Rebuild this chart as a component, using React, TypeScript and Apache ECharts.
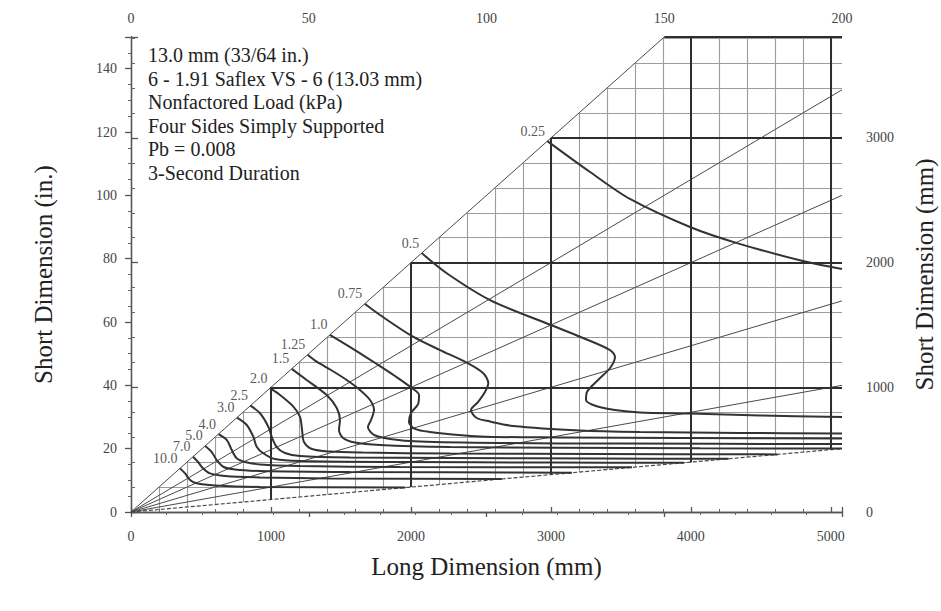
import React, { useEffect, useRef } from 'react';
import * as echarts from 'echarts';

// ---- axis ranges and ticks ----
const longMaxMm = 5080;
const longMaxIn = 200;
const shortMaxIn = 150;
const shortMaxMm = 3810;
const bottomTickStep = 1000;
const topTickStep = 50;
const leftTickStep = 20;
const rightTickStep = 1000;

// ---- chart grid definition (mm) ----
const fineGridStep = 200;
const coarseGridStep = 1000;
const aspectRatios = [1, 1.5, 2, 3, 5, 10];
const maxAspect = 10;

const headerLines = [
  '13.0 mm (33/64 in.)',
  '6 - 1.91 Saflex VS - 6 (13.03 mm)',
  'Nonfactored Load (kPa)',
  'Four Sides Simply Supported',
  'Pb = 0.008',
  '3-Second Duration',
];

// ---- load contours: [long mm, short mm] ----
const loadLabels = ['0.25', '0.5', '0.75', '1.0', '1.25', '1.5', '2.0', '2.5', '3.0', '4.0', '5.0', '7.0', '10.0'];

const load025 = [[2975, 2975], [3280, 2727], [3565, 2511], [3994, 2286], [4330, 2157], [4801, 2013], [5080, 1949]];
const load05 = [[2077, 2077], [2256, 1915], [2565, 1700], [3000, 1500], [3208, 1406], [3423, 1299], [3458, 1243], [3423, 1155], [3337, 1059], [3258, 963], [3251, 898], [3322, 850], [3458, 818], [3637, 798], [3994, 790], [4494, 774], [5080, 762]];
const load075 = [[1670, 1670], [1779, 1580], [2015, 1406], [2208, 1299], [2399, 1198], [2517, 1113], [2553, 1032], [2529, 963], [2479, 882], [2429, 818], [2470, 754], [2565, 726], [2729, 690], [3208, 654], [3637, 642], [4351, 634], [5080, 630]];
const load10 = [[1421, 1421], [1600, 1299], [1756, 1187], [1886, 1091], [2000, 1000], [2058, 938], [2051, 866], [2001, 794], [1986, 722], [2029, 666], [2136, 642], [2494, 606], [3065, 598], [3923, 594], [5080, 590]];
const load125 = [[1262, 1262], [1327, 1206], [1429, 1139], [1541, 1059], [1636, 979], [1708, 898], [1736, 818], [1715, 738], [1693, 682], [1736, 618], [1851, 586], [2065, 565], [2637, 553], [3494, 549], [5080, 545]];
const load15 = [[1148, 1148], [1255, 1059], [1398, 938], [1470, 834], [1493, 738], [1486, 658], [1515, 594], [1600, 557], [1779, 537], [2279, 521], [3065, 515], [4066, 511], [5080, 509]];
const load20 = [[993, 993], [1065, 938], [1160, 845], [1208, 762], [1222, 658], [1236, 561], [1293, 505], [1422, 485], [1658, 477], [2279, 469], [3351, 465], [4620, 462]];
const load25 = [[853, 853], [922, 792], [981, 684], [1005, 604], [1041, 521], [1100, 473], [1208, 449], [1565, 437], [2279, 433], [3351, 429], [4270, 427]];
const load30 = [[757, 757], [827, 698], [874, 604], [898, 524], [945, 471], [1029, 425], [1208, 409], [1922, 401], [2994, 397], [3950, 395]];
const load40 = [[625, 625], [684, 578], [720, 497], [755, 431], [815, 401], [922, 381], [1208, 369], [1922, 361], [3580, 358]];
const load50 = [[530, 530], [577, 481], [612, 417], [659, 363], [743, 341], [922, 329], [1565, 321], [3150, 315]];
const load70 = [[443, 443], [479, 401], [514, 351], [564, 310], [672, 289], [922, 277], [1422, 269], [2650, 265]];
const load100 = [[350, 350], [386, 310], [422, 257], [469, 230], [600, 213], [922, 201], [1960, 196]];

const loadCurves = [load025, load05, load075, load10, load125, load15, load20, load25, load30, load40, load50, load70, load100];

const FONT = 'Liberation Serif';

function buildSegments() {
  const fine: number[][][] = [];
  for (let x = fineGridStep; x < longMaxMm; x += fineGridStep) {
    fine.push([[x, x / maxAspect], [x, Math.min(x, shortMaxMm)]]);
  }
  for (let y = fineGridStep; y < shortMaxMm; y += fineGridStep) {
    fine.push([[y, y], [Math.min(y * maxAspect, longMaxMm), y]]);
  }
  const coarse: number[][][] = [];
  for (let x = coarseGridStep; x < longMaxMm; x += coarseGridStep) {
    coarse.push([[x, x / maxAspect], [x, Math.min(x, shortMaxMm)]]);
  }
  for (let y = coarseGridStep; y < shortMaxMm; y += coarseGridStep) {
    coarse.push([[y, y], [Math.min(y * maxAspect, longMaxMm), y]]);
  }
  coarse.push([[shortMaxMm, shortMaxMm], [longMaxMm, shortMaxMm]]);
  const solidRatios: number[][][] = [];
  const dashedRatios: number[][][] = [];
  aspectRatios.forEach((r) => {
    const xe = Math.min(longMaxMm, shortMaxMm * r);
    const seg = [[0, 0], [xe, xe / r]];
    if (r === maxAspect) dashedRatios.push(seg);
    else solidRatios.push(seg);
  });
  return { fine, coarse, solidRatios, dashedRatios };
}

const plain = (v: number) => String(v);

export default function App() {
  const ref = useRef<HTMLDivElement>(null);
  useEffect(() => {
    if (!ref.current) return;
    const chart = echarts.init(ref.current, undefined, { renderer: 'svg' });
    const { fine, coarse, solidRatios, dashedRatios } = buildSegments();

    const axisLineStyle = { color: '#555', width: 1.3 };
    const labelStyle = { fontFamily: FONT, fontSize: 14, color: '#444', formatter: plain };
    const nameStyle = { fontFamily: FONT, fontSize: 25, color: '#222' };
    const curveLabel = { fontFamily: FONT, fontSize: 14, color: '#2a2a2a', textBorderWidth: 0 };

    const series: any[] = [
      {
        type: 'lines', coordinateSystem: 'cartesian2d', xAxisIndex: 0, yAxisIndex: 1,
        data: fine.map((c) => ({ coords: c })),
        lineStyle: { color: '#9c9c9c', width: 1.1, opacity: 1 }, silent: true, z: 1,
      },
      {
        type: 'lines', coordinateSystem: 'cartesian2d', xAxisIndex: 0, yAxisIndex: 1,
        data: solidRatios.map((c) => ({ coords: c })),
        lineStyle: { color: '#4a4a4a', width: 1, opacity: 1 }, silent: true, z: 2,
      },
      {
        type: 'lines', coordinateSystem: 'cartesian2d', xAxisIndex: 0, yAxisIndex: 1,
        data: dashedRatios.map((c) => ({ coords: c })),
        lineStyle: { color: '#4a4a4a', width: 1.2, opacity: 1, type: [4, 2] }, silent: true, z: 2,
      },
      {
        type: 'lines', coordinateSystem: 'cartesian2d', xAxisIndex: 0, yAxisIndex: 1,
        data: coarse.map((c) => ({ coords: c })),
        lineStyle: { color: '#2e2e2e', width: 2, opacity: 1 }, silent: true, z: 3,
      },
    ];
    loadCurves.forEach((pts, i) => {
      series.push({
        type: 'line', name: loadLabels[i], xAxisIndex: 0, yAxisIndex: 1,
        data: pts, smooth: 0.3, showSymbol: false, silent: true, z: 5,
        lineStyle: { color: '#333', width: 2 },
      });
    });
    series.push({
      type: 'scatter', xAxisIndex: 0, yAxisIndex: 1, symbolSize: 1, silent: true, z: 6,
      itemStyle: { color: 'rgba(0,0,0,0)' },
      data: loadCurves.map((pts, i) => ({ value: pts[0], label: { ...curveLabel, formatter: loadLabels[i] } })),
      label: { show: true, position: 'left', distance: 2, offset: [0, -10], ...curveLabel },
    });

    chart.setOption({
      animation: false,
      textStyle: { fontFamily: FONT },
      grid: { left: 131, width: 711, top: 37, height: 475, outerBoundsMode: 'none', containLabel: false },
      xAxis: [
        {
          type: 'value', position: 'bottom', min: 0, max: longMaxMm, interval: bottomTickStep,
          axisLine: { lineStyle: axisLineStyle }, splitLine: { show: false },
          axisTick: { inside: true, length: 5, lineStyle: axisLineStyle },
          minorTick: { show: true, splitNumber: 5, length: 3, lineStyle: { color: '#666' } },
          axisLabel: { ...labelStyle, margin: 17, showMaxLabel: false },
          name: 'Long Dimension (mm)', nameLocation: 'middle', nameGap: 42, nameTextStyle: nameStyle,
        },
        {
          type: 'value', position: 'top', min: 0, max: longMaxIn, interval: topTickStep,
          axisLine: { lineStyle: axisLineStyle }, splitLine: { show: false },
          axisTick: { inside: true, length: 5, lineStyle: axisLineStyle },
          minorTick: { show: true, splitNumber: 5, length: 3, lineStyle: { color: '#666' } },
          axisLabel: { ...labelStyle, margin: 12 },
        },
      ],
      yAxis: [
        {
          type: 'value', position: 'left', min: 0, max: shortMaxIn, interval: leftTickStep,
          axisLine: { show: true, lineStyle: axisLineStyle }, splitLine: { show: false },
          axisTick: { show: true, length: 6, lineStyle: axisLineStyle },
          minorTick: { show: true, splitNumber: 4, length: 3, lineStyle: { color: '#666' } },
          axisLabel: { ...labelStyle, margin: 14, showMaxLabel: false },
          name: 'Short Dimension (in.)', nameLocation: 'middle', nameGap: 75, nameRotate: 90, nameTextStyle: nameStyle,
        },
        {
          type: 'value', position: 'right', min: 0, max: shortMaxMm, interval: rightTickStep,
          axisLine: { show: true, lineStyle: axisLineStyle }, splitLine: { show: false },
          axisTick: { show: true, length: 7, lineStyle: axisLineStyle },
          minorTick: { show: true, splitNumber: 5, length: 4, lineStyle: { color: '#666' } },
          axisLabel: { ...labelStyle, margin: 24, showMaxLabel: false },
          name: 'Short Dimension (mm)', nameLocation: 'middle', nameGap: 70, nameRotate: 90, nameTextStyle: nameStyle,
        },
      ],
      graphic: headerLines.map((t, i) => ({
        type: 'text', x: 148, y: 55 + i * 23.6, z: 10,
        style: { text: t, fontFamily: FONT, fontSize: 20, fill: '#222', verticalAlign: 'middle' },
      })),
      series,
    });
    return () => chart.dispose();
  }, []);
  return <div ref={ref} style={{ position: 'fixed', left: 0, top: 0, width: 941, height: 611, background: '#fff' }} />;
}
